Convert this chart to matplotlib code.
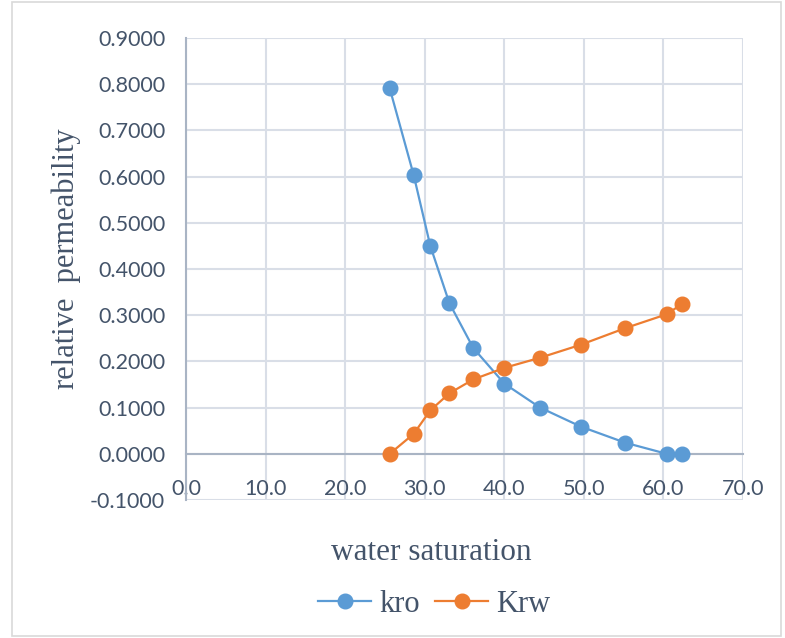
import matplotlib
matplotlib.use('Agg')
import matplotlib.pyplot as plt
from matplotlib.patches import Rectangle

# water saturation (%) and relative permeabilities
sw = [25.6, 28.6, 30.7, 33.1, 36.1, 40.0, 44.5, 49.6, 55.2, 60.4, 62.3]
kro = [0.791, 0.604, 0.450, 0.326, 0.229, 0.152, 0.100, 0.059, 0.024, 0.0, 0.0]
krw = [0.0, 0.043, 0.094, 0.131, 0.161, 0.186, 0.208, 0.236, 0.272, 0.302, 0.324]

blue = '#5b9bd5'
orange = '#ed7d31'
grid_c = '#d9dee7'
axis_c = '#a9b4c4'
text_c = '#44546a'

fig = plt.figure(figsize=(7.85, 6.38), dpi=100)
fig.patches.append(Rectangle((0.015, 0.003), 0.98, 0.994, transform=fig.transFigure,
                             fill=False, edgecolor='#d9d9d9', linewidth=1.2))

ax = fig.add_axes([0.237, 0.2163, 0.7095, 0.7241])

ax.plot(sw, kro, color=blue, lw=1.6, marker='o', ms=10.5, label='kro', zorder=3)
ax.plot(sw, krw, color=orange, lw=1.6, marker='o', ms=10.5, label='Krw', zorder=3)

ax.set_xlim(0, 70)
ax.set_ylim(-0.1, 0.9)
ax.set_xticks([0, 10, 20, 30, 40, 50, 60, 70])
ax.set_yticks([-0.1, 0, 0.1, 0.2, 0.3, 0.4, 0.5, 0.6, 0.7, 0.8, 0.9])
ax.set_xticklabels(['%.1f' % v for v in ax.get_xticks()])
ax.set_yticklabels(['%.4f' % v for v in ax.get_yticks()])
ax.grid(True, color=grid_c, lw=1.5, zorder=0)

ax.spines['bottom'].set_position(('data', 0))
ax.spines['bottom'].set_color(axis_c)
ax.spines['bottom'].set_linewidth(1.5)
ax.spines['left'].set_color(axis_c)
ax.spines['left'].set_linewidth(1.5)
ax.spines['top'].set_visible(False)
ax.spines['right'].set_visible(False)

ax.tick_params(axis='both', length=0, labelsize=15.5, colors=text_c)
ax.tick_params(axis='x', pad=18)
ax.tick_params(axis='y', pad=15)
for lab in ax.get_xticklabels() + ax.get_yticklabels():
    lab.set_family('Lato')

ax.set_xlabel('water saturation', fontsize=22.5, family='Liberation Serif', color=text_c)
ax.set_ylabel('relative  permeability', fontsize=22, family='Liberation Serif', color=text_c)
ax.xaxis.set_label_coords(0.44, -0.082)
ax.yaxis.set_label_coords(-0.188, 0.522)

fig.legend(loc='center', bbox_to_anchor=(0.553, 0.053), ncol=2, frameon=False,
           prop={'family': 'Liberation Serif', 'size': 22}, labelcolor=text_c,
           handlelength=1.75, handletextpad=0.25, columnspacing=0.5)

fig.savefig('out.png', dpi=100)
